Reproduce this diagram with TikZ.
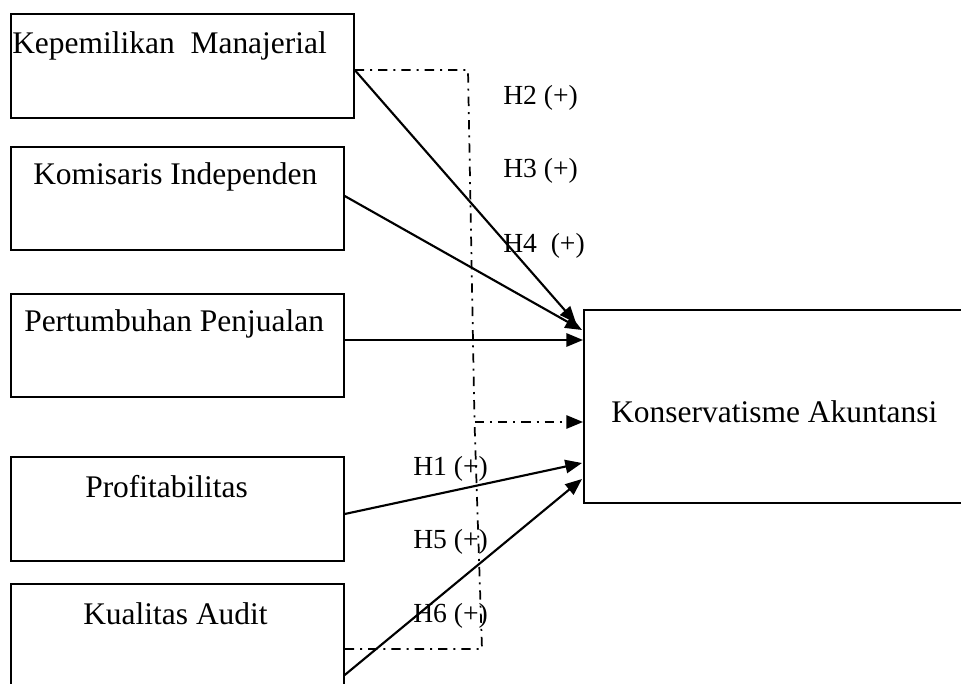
\documentclass[tikz,border=0pt]{standalone}
\usepackage{fontspec}
\setmainfont{Liberation Serif}
\usetikzlibrary{arrows.meta,calc}
\begin{document}
\begin{tikzpicture}[x=0.75pt,y=-0.75pt,
  box/.style={draw,line width=1.3pt,anchor=north west,inner sep=0pt},
  boxtext/.style={anchor=base west,inner sep=0pt,font=\fontsize{23.6}{28}\selectfont},
  hlabel/.style={anchor=base west,inner sep=0pt,font=\fontsize{20.7}{25}\selectfont},
  tip/.style={-{Triangle[length=12.5pt,width=10pt]}},
  link/.style={line width=1.6pt,tip},
  dashdot/.style={line width=1.3pt,dash pattern=on 7pt off 4.5pt on 1.5pt off 4.5pt}]
\useasboundingbox (0,0) rectangle (961,684);

% boxes
\node[box,minimum width=257.25pt,minimum height=78pt] (b1) at (10,13) {};
\node[box,minimum width=249.75pt,minimum height=77.25pt] (b2) at (10,146) {};
\node[box,minimum width=249.75pt,minimum height=77.25pt] (b3) at (10,293) {};
\node[box,minimum width=249.75pt,minimum height=78pt] (b4) at (10,456) {};
\node[box,minimum width=249.75pt,minimum height=90pt] (b5) at (10,583) {};
\node[box,minimum width=300pt,minimum height=144.75pt] (K) at (583,309) {};

% box texts
\node[boxtext] (t1) at (12,54) {Kepemilikan\ \ Manajerial};
\node[boxtext] (t2) at (33,185) {Komisaris Independen};
\node[boxtext] (t3) at (24,332) {Pertumbuhan Penjualan};
\node[boxtext] (t4) at (85,497) {Profitabilitas};
\node[boxtext] (t5) at (83,624) {Kualitas Audit};
\node[boxtext] (tK) at (611,422) {Konservatisme Akuntansi};

% dash-dot connectors
\coordinate (c1) at (468,70);
\coordinate (c2) at (482,649);
\coordinate (J) at (474.5,422);
\draw[dashdot] ($(b1.north east)+(0,57)$) -- (c1) -- (J);
\draw[dashdot] ($(b5.north east)+(0,66)$) -- (c2) -- (J);
\draw[dashdot,tip] (J) -- ($(K.north west)+(0,113)$);

% solid arrows
\draw[link] ($(b1.north east)+(0,57)$) -- ($(K.north west)+(-7,14)$);
\draw[link] ($(b2.north east)+(0,50)$) -- ($(K.north west)+(-1,21)$);
\draw[link] ($(b3.north east)+(0,47)$) -- ($(K.north west)+(0,31)$);
\draw[link] ($(b4.north east)+(0,58)$) -- ($(K.north west)+(-1,154)$);
\draw[link] ($(b5.north east)+(0,92)$) -- ($(K.north west)+(-1,170)$);

% hypothesis labels
\node[hlabel] (h2) at (503,105) {H2 (+)};
\node[hlabel] (h3) at (503,178) {H3 (+)};
\node[hlabel] (h4) at (503,253) {H4\ \ (+)};
\node[hlabel] (h1) at (413,475) {H1 (+)};
\node[hlabel] (h5) at (413,548) {H5 (+)};
\node[hlabel] (h6) at (413,622) {H6 (+)};
\end{tikzpicture}
\end{document}
